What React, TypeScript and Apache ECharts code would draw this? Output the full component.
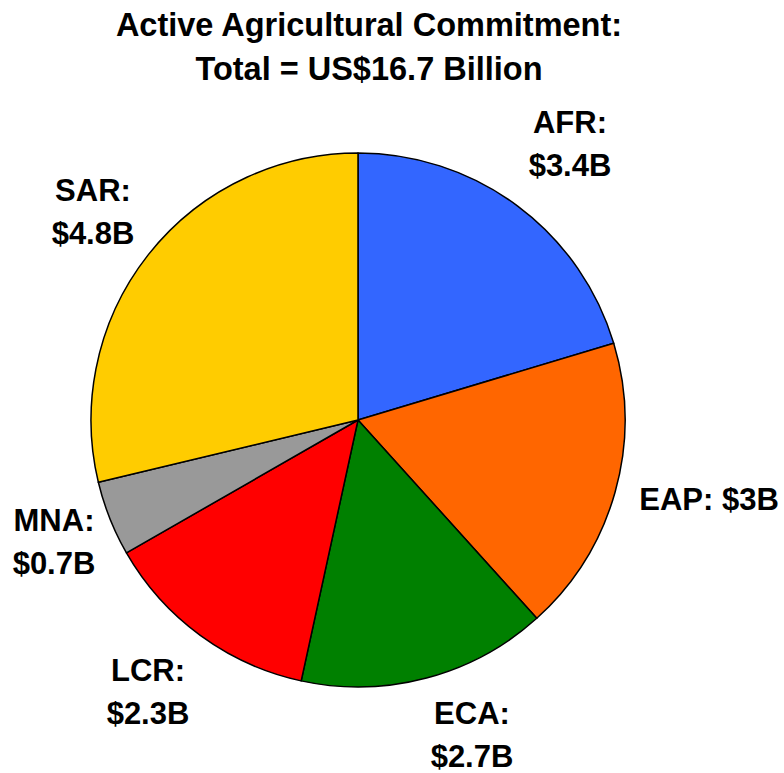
import React, { useEffect, useRef } from "react";
import * as echarts from "echarts";

const regions = ["AFR", "EAP", "ECA", "LCR", "MNA", "SAR"];
// slice sizes as drawn (US$ billion)
const sliceValues = [3.4, 3.0, 2.52, 2.22, 0.76, 4.8];
// values printed in the labels
const labelValues = ["3.4", "3", "2.7", "2.3", "0.7", "4.8"];
const colors = ["#3366FF", "#FF6600", "#008000", "#FF0000", "#999999", "#FFCC00"];
const titleLines = ["Active Agricultural Commitment:", "Total = US$16.7 Billion"];
// label anchor (text block centre) for each region
const labelX = [570, 709, 472, 148, 54, 93];
const labelY = [144, 499, 735, 692, 542, 212];

export default function App() {
  const ref = useRef<HTMLDivElement>(null);
  useEffect(() => {
    document.body.style.margin = "0";
    const chart = echarts.init(ref.current!, undefined, { renderer: "svg" });
    const font = "'Liberation Sans', Arial, sans-serif";
    chart.setOption({
      animation: false,
      backgroundColor: "#ffffff",
      title: {
        text: titleLines.join("\n"),
        left: 364,
        textAlign: "center",
        top: -2,
        textStyle: { fontFamily: font, fontWeight: "bold", fontSize: 32.5, lineHeight: 44, color: "#000" },
      },
      series: [
        {
          type: "pie",
          center: [358, 420],
          radius: 267,
          startAngle: 90,
          clockwise: true,
          label: {
            show: true,
            position: "outside",
            fontFamily: font,
            fontWeight: "bold",
            fontSize: 31,
            lineHeight: 43,
            color: "#000",
            overflow: "none",
            align: "center",
            formatter: (p: any) =>
              p.name === "EAP"
                ? `${p.name}: $${labelValues[p.dataIndex]}B`
                : `${p.name}:\n$${labelValues[p.dataIndex]}B`,
          },
          labelLayout: (p: any) => ({
            x: labelX[p.dataIndex],
            y: labelY[p.dataIndex],
            align: "center",
            verticalAlign: "middle",
          }),
          labelLine: { show: false },
          itemStyle: { borderColor: "#000", borderWidth: 1.5 },
          emphasis: { disabled: true },
          data: regions.map((r, i) => ({ name: r, value: sliceValues[i], itemStyle: { color: colors[i] } })),
        },
      ],
    });
    return () => chart.dispose();
  }, []);
  return <div ref={ref} style={{ width: 784, height: 773 }} />;
}
